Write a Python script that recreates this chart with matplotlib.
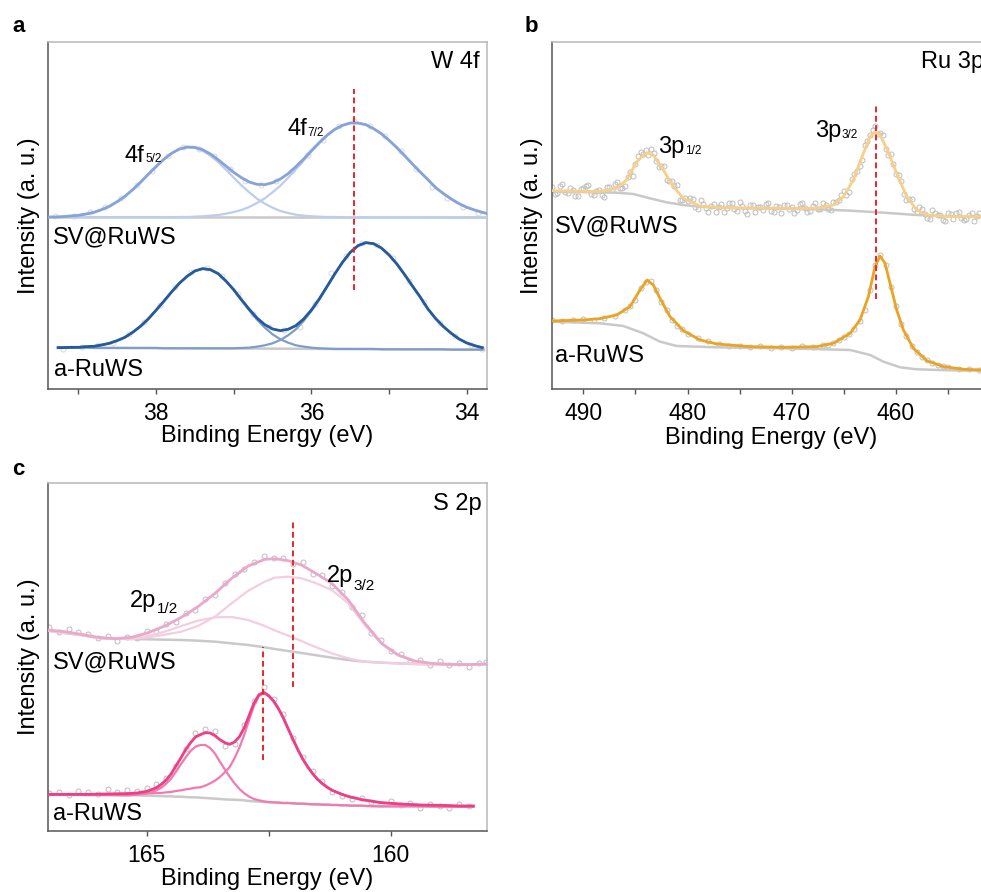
# %% initial imports
import matplotlib as mpl
import matplotlib.figure as figure
from matplotlib.ticker import MultipleLocator

mpl.rc('font', family='Liberation Sans')
mpl.rc('font', size=17)

# %% data (binding energy in eV, intensity in arbitrary units)

# W 4f, SV@RuWS
w_sv_x = [39.4, 39.3, 39.2, 39.1, 39.0, 38.9, 38.8, 38.7, 38.6, 38.5,
          38.4, 38.3, 38.2, 38.1, 38.0, 37.9, 37.8, 37.7, 37.6, 37.5,
          37.4, 37.3, 37.2, 37.1, 37.0, 36.9, 36.8, 36.7, 36.6, 36.5,
          36.4, 36.3, 36.2, 36.1, 36.0, 35.9, 35.8, 35.7, 35.6, 35.5,
          35.4, 35.3, 35.2, 35.1, 35.0, 34.9, 34.8, 34.7, 34.6, 34.5,
          34.4, 34.3, 34.2, 34.1, 34.0, 33.9, 33.8, 33.75]
w_sv_env = [516, 516, 517, 519, 521, 525, 530, 538, 548, 562,
            578, 598, 620, 644, 667, 689, 707, 720, 726, 725,
            718, 705, 688, 669, 650, 634, 621, 614, 613, 619,
            630, 646, 667, 690, 715, 739, 761, 779, 791, 798,
            798, 793, 781, 766, 746, 724, 700, 675, 651, 628,
            604, 586, 570, 556, 545, 537, 530, 527]
w_sv_52 = [516, 516, 517, 519, 521, 525, 530, 538, 548, 562,
           578, 598, 620, 644, 667, 689, 707, 719, 725, 723,
           715, 700, 681, 658, 634, 611, 590, 571, 556, 544,
           534, 528, 523, 520, 518, 517, 516, 516, 515, 515,
           515, 515, 515, 515, 515, 515, 515, 515, 515, 515,
           515, 515, 515, 515, 515, 515, 515, 515]
w_sv_72 = [515, 515, 515, 515, 515, 515, 515, 515, 515, 515,
           515, 515, 515, 515, 515, 515, 515, 516, 516, 517,
           518, 520, 522, 526, 531, 537, 546, 558, 572, 590,
           610, 634, 659, 685, 712, 737, 760, 778, 791, 798,
           798, 793, 781, 766, 746, 724, 700, 675, 651, 628,
           604, 586, 570, 556, 545, 537, 530, 527]
w_sv_bg_x = [39.39, 33.75]
w_sv_bg = [515, 514]
w_sv_pts_x = [39.30, 39.05, 38.85, 38.65, 38.45, 38.25, 38.05, 37.85, 37.65, 37.45,
              37.25, 37.05, 36.85, 36.65, 36.45, 36.25, 36.05, 35.85, 35.65, 35.45,
              35.25, 35.05, 34.85, 34.65, 34.45, 34.25, 34.05, 33.85]
w_sv_pts_y = [518, 519, 530, 547, 573, 611, 655, 698, 727, 720,
              698, 660, 625, 611, 624, 654, 702, 748, 788, 803,
              790, 760, 713, 660, 606, 574, 545, 528]

# W 4f, a-RuWS
w_a_x = [39.26, 39.2, 39.1, 39.0, 38.9, 38.8, 38.7, 38.6, 38.5, 38.4,
         38.3, 38.2, 38.1, 38.0, 37.9, 37.8, 37.7, 37.6, 37.5, 37.4,
         37.3, 37.2, 37.1, 37.0, 36.9, 36.8, 36.7, 36.6, 36.5, 36.4,
         36.3, 36.2, 36.1, 36.0, 35.9, 35.8, 35.7, 35.6, 35.5, 35.4,
         35.3, 35.2, 35.1, 35.0, 34.9, 34.8, 34.7, 34.6, 34.5, 34.4,
         34.3, 34.2, 34.1, 34.0, 33.9, 33.8]
w_a_env = [124, 124, 125, 125, 127, 128, 132, 137, 145, 155,
           170, 188, 210, 236, 263, 291, 317, 338, 354, 361,
           358, 346, 324, 298, 268, 239, 213, 193, 180, 175,
           179, 190, 210, 237, 270, 307, 345, 380, 410, 430,
           439, 436, 423, 402, 375, 343, 309, 276, 240, 211,
           187, 167, 150, 138, 130, 124]
w_a_52 = [124, 124, 125, 125, 127, 128, 132, 137, 145, 155,
          170, 188, 210, 236, 263, 291, 317, 338, 354, 361,
          358, 346, 324, 297, 266, 236, 208, 184, 164, 149,
          139, 131, 127, 124, 122, 121, 120, 120, 120, 120,
          120, 120, 119, 119, 119, 119, 119, 119, 119, 119,
          119, 118, 118, 118, 118, 118]
w_a_72 = [124, 124, 124, 124, 124, 123, 123, 123, 123, 123,
          123, 123, 123, 123, 122, 122, 122, 122, 122, 122,
          122, 122, 122, 122, 123, 124, 127, 131, 137, 147,
          161, 179, 204, 234, 268, 306, 344, 380, 410, 430,
          439, 436, 423, 402, 375, 343, 309, 276, 240, 211,
          187, 167, 150, 138, 130, 124]
w_a_bg_x = [39.26, 33.78]
w_a_bg = [124, 118]
w_a_pts_x = [39.20, 38.95, 38.75, 38.55, 38.35, 38.15, 37.95, 37.75, 37.55, 37.35,
             37.15, 36.95, 36.75, 36.55, 36.35, 36.15, 35.95, 35.75, 35.55, 35.35,
             35.15, 34.95, 34.75, 34.55, 34.35, 34.15, 33.95, 33.80]
w_a_pts_y = [121, 126, 132, 139, 164, 200, 252, 305, 350, 362,
             338, 284, 226, 186, 176, 186, 255, 348, 398, 438,
             432, 392, 325, 262, 198, 158, 133, 121]
w_mark_x = 35.45
w_mark_y = [297, 900]

# Ru 3p, SV@RuWS
ru_sv_x = [493.04, 490.0, 488.4, 486.8, 485.84, 484.88, 483.92, 483.28, 482.32, 481.36,
           480.4, 478.8, 477.2, 474.0, 470.8, 467.6, 466.0, 465.05, 464.09, 463.13,
           462.49, 462.01, 461.53, 460.89, 459.93, 458.97, 458.01, 457.05, 454.81, 451.84]
ru_sv_env = [595, 593, 593, 602, 627, 682, 709, 702, 657, 607,
             572, 549, 545, 543, 542, 542, 552, 577, 627, 707,
             757, 772, 762, 722, 647, 577, 537, 522, 517, 517]
ru_sv_bg_x = [493.04, 486.8, 485.2, 483.6, 482.0, 480.4, 478.8, 477.2, 474.0, 470.8,
              467.6, 464.4, 461.21, 458.01, 454.81, 451.84]
ru_sv_bg = [592, 589, 585, 572, 560, 552, 547, 544, 542, 541,
            539, 535, 529, 522, 518, 516]
ru_sv_pts_x = [493.0, 492.5, 492.0, 491.5, 491.0, 490.5, 490.0, 489.5, 489.0, 488.5,
               488.0, 487.5, 487.0, 486.5, 486.0, 485.5, 485.0, 484.5, 484.0, 483.5,
               483.0, 482.5, 482.0, 481.5, 481.0, 480.5, 480.0, 479.5, 479.0, 478.5,
               478.0, 477.5, 477.0, 476.5, 476.0, 475.5, 475.0, 474.5, 474.0, 473.5,
               473.0, 472.5, 472.0, 471.5, 471.0, 470.5, 470.0, 469.5, 469.0, 468.5,
               468.0, 467.5, 467.0, 466.5, 466.0, 465.5, 465.0, 464.5, 464.0, 463.5,
               463.0, 462.5, 462.0, 461.5, 461.0, 460.5, 460.0, 459.5, 459.0, 458.5,
               458.0, 457.5, 457.0, 456.5, 456.0, 455.5, 455.0, 454.5, 454.0, 453.5,
               453.0, 452.5, 452.0,
               492.75, 492.25, 491.75, 491.25, 490.75, 490.25, 489.75, 489.25, 488.75, 488.25,
               487.75, 487.25, 486.75, 486.25, 485.75, 485.25, 484.75, 484.25, 483.75, 483.25,
               482.75, 482.25, 481.75, 481.25, 480.75, 480.25, 479.75, 479.25, 478.75, 478.25,
               477.75, 477.25, 476.75, 476.25, 475.75, 475.25, 474.75, 474.25, 473.75, 473.25,
               472.75, 472.25, 471.75, 471.25, 470.75, 470.25, 469.75, 469.25, 468.75, 468.25,
               467.75, 467.25, 466.75, 466.25, 465.75, 465.25, 464.75, 464.25, 463.75, 463.25,
               462.75, 462.25, 461.75, 461.25, 460.75, 460.25, 459.75, 459.25, 458.75, 458.25,
               457.75, 457.25, 456.75, 456.25, 455.75, 455.25, 454.75, 454.25, 453.75, 453.25,
               452.75, 452.25]
ru_sv_pts_y = [607, 587, 614, 589, 597, 578, 602, 611, 583, 597,
               577, 605, 615, 602, 608, 650, 674, 711, 716, 720,
               684, 670, 626, 625, 611, 568, 563, 571, 541, 555,
               531, 554, 546, 532, 559, 540, 561, 535, 552, 531,
               546, 556, 533, 548, 527, 553, 546, 536, 558, 532,
               550, 540, 558, 541, 562, 568, 593, 591, 646, 668,
               732, 762, 790, 768, 719, 704, 646, 625, 567, 570,
               532, 540, 514, 537, 522, 507, 527, 511, 530, 508,
               522, 503, 527,
               585, 609, 590, 602, 579, 599, 610, 586, 595, 582,
               607, 597, 622, 603, 635, 640, 699, 704, 702, 709,
               667, 668, 625, 609, 568, 573, 573, 547, 567, 543,
               549, 532, 555, 543, 558, 535, 549, 526, 551, 545,
               536, 557, 531, 546, 551, 539, 528, 554, 543, 534,
               558, 539, 553, 538, 560, 581, 582, 630, 653, 687,
               743, 776, 764, 762, 702, 674, 643, 584, 571, 541,
               546, 524, 510, 529, 522, 503, 524, 529, 513, 509,
               527, 518]

# Ru 3p, a-RuWS
ru_a_x = [493.04, 490.0, 488.4, 486.8, 485.52, 484.56, 483.86, 483.28, 482.64, 481.68,
          480.4, 478.8, 477.2, 474.0, 470.8, 467.6, 466.0, 464.4, 463.45, 462.65,
          462.01, 461.53, 461.05, 460.57, 459.93, 459.29, 458.33, 457.05, 455.45, 453.53,
          451.84]
ru_a_env = [204, 207, 211, 222, 247, 297, 327, 312, 272, 217,
            175, 147, 135, 127, 125, 127, 137, 167, 207, 277,
            367, 399, 377, 317, 237, 177, 122, 85, 67, 59,
            57]
ru_a_bg_x = [493.04, 488.4, 486.16, 484.24, 482.64, 481.04, 477.2, 470.8, 464.4, 462.49,
             461.21, 459.61, 458.01, 454.81, 451.84]
ru_a_bg = [202, 197, 189, 167, 142, 129, 125, 122, 117, 102,
           82, 65, 59, 56, 55]
ru_a_pts_x = [493.0, 492.0, 491.0, 490.0, 489.0, 488.0, 487.0, 486.0, 485.5, 485.0,
              484.5, 484.0, 483.5, 483.0, 482.5, 482.0, 481.5, 481.0, 480.5, 480.0,
              479.0, 478.0, 477.0, 476.0, 475.0, 474.0, 473.0, 472.0, 471.0, 470.0,
              469.0, 468.0, 467.0, 466.5, 466.0, 465.5, 465.0, 464.5, 464.0, 463.5,
              463.0, 462.5, 462.0, 461.5, 461.0, 460.5, 460.0, 459.5, 459.0, 458.5,
              458.0, 457.5, 457.0, 456.5, 456.0, 455.5, 455.0, 454.0, 453.0, 452.0]
ru_a_pts_y = [206, 203, 208, 209, 207, 214, 219, 236, 250, 268,
              302, 322, 324, 296, 262, 236, 208, 190, 180, 166,
              152, 143, 136, 129, 130, 126, 128, 124, 127, 123,
              128, 126, 131, 133, 139, 146, 155, 166, 180, 205,
              238, 296, 372, 402, 371, 306, 248, 195, 158, 130,
              110, 97, 86, 79, 73, 69, 65, 61, 60, 56]
ru_mark_x = 461.9
ru_mark_y = [270, 858]

# S 2p, SV@RuWS
s_sv_x = [167.02, 166.68, 166.34, 166.00, 165.65, 165.31, 164.97, 164.63, 164.29, 163.95,
          163.60, 163.26, 162.92, 162.58, 162.38, 162.10, 161.83, 161.56, 161.21, 160.87,
          160.53, 160.19, 159.85, 159.51, 159.17, 158.82, 158.48, 158.02]
s_sv_env = [603, 598, 590, 581, 577, 581, 595, 615, 641, 673,
            713, 758, 795, 815, 817, 811, 798, 775, 743, 693,
            623, 563, 528, 510, 503, 500, 499, 501]
s_sv_32 = [601, 594, 588, 579, 577, 576, 581, 589, 598, 615,
           643, 683, 721, 748, 760, 763, 758, 745, 723, 683,
           618, 561, 527, 510, 503, 500, 499, 501]
s_sv_12 = [601, 594, 588, 579, 577, 580, 585, 598, 615, 631,
           641, 642, 633, 615, 602, 586, 570, 553, 533, 518,
           508, 505, 503, 501, 500, 500, 499, 501]
s_sv_bg = [601, 594, 588, 579, 577, 576, 575, 574, 573, 571,
           568, 563, 558, 551, 546, 540, 534, 528, 520, 513,
           508, 505, 503, 501, 500, 500, 499, 501]
s_sv_pts_x = [167.0, 166.8, 166.6, 166.4, 166.2, 166.0, 165.8, 165.6, 165.4, 165.2,
              165.0, 164.8, 164.6, 164.4, 164.2, 164.0, 163.8, 163.6, 163.4, 163.2,
              163.0, 162.8, 162.6, 162.4, 162.2, 162.0, 161.8, 161.6, 161.4, 161.2,
              161.0, 160.8, 160.6, 160.4, 160.2, 160.0, 159.8, 159.6, 159.4, 159.2,
              159.0, 158.8, 158.6, 158.4, 158.2, 158.05]
s_sv_pts_y = [612, 598, 606, 596, 590, 578, 585, 571, 582, 579,
              600, 598, 620, 628, 655, 662, 697, 708, 745, 772,
              786, 808, 826, 820, 818, 800, 806, 770, 768, 736,
              718, 672, 648, 595, 572, 540, 532, 511, 513, 498,
              509, 497, 505, 492, 503, 507]
s_sv_mark_x = 162.0
s_sv_mark_y = [432, 933]

# S 2p, a-RuWS
s_a_x = [167.02, 166.6, 166.2, 165.8, 165.4, 165.2, 165.0, 164.9, 164.8, 164.7,
         164.6, 164.5, 164.4, 164.3, 164.2, 164.1, 164.0, 163.9, 163.8, 163.7,
         163.6, 163.5, 163.4, 163.3, 163.2, 163.1, 163.0, 162.9, 162.8, 162.7,
         162.6, 162.5, 162.4, 162.3, 162.2, 162.1, 162.0, 161.9, 161.8, 161.7,
         161.6, 161.5, 161.4, 161.3, 161.2, 161.1, 161.0, 160.9, 160.8, 160.7,
         160.6, 160.5, 160.2, 159.8, 159.4, 159.0, 158.6, 158.31]
s_a_env = [110, 110, 110, 111, 112, 114, 119, 124, 130, 140,
           153, 171, 195, 219, 244, 265, 282, 289, 295, 294,
           286, 274, 265, 260, 267, 283, 310, 347, 384, 409,
           416, 406, 390, 367, 339, 306, 274, 243, 215, 192,
           172, 155, 142, 131, 122, 116, 110, 105, 101, 98,
           94, 92, 85, 81, 78, 77, 75, 75]
s_a_12 = [109, 109, 108, 108, 107, 109, 112, 116, 122, 130,
          142, 157, 178, 200, 221, 240, 253, 258, 258, 249,
          232, 208, 185, 163, 143, 126, 113, 103, 96, 92,
          89, 87, 86, 85, 84, 84, 83, 82, 82, 81,
          80, 80, 79, 79, 78, 78, 77, 77, 76, 76,
          76, 75, 74, 74, 74, 73, 73, 73]
s_a_32 = [110, 110, 110, 111, 112, 112, 113, 113, 114, 114,
          116, 117, 120, 122, 125, 127, 130, 131, 136, 143,
          151, 162, 176, 192, 218, 250, 289, 334, 377, 405,
          414, 405, 389, 367, 339, 306, 274, 243, 215, 192,
          172, 155, 142, 131, 122, 116, 110, 105, 101, 98,
          94, 92, 85, 81, 78, 77, 75, 75]
s_a_bg = [109, 109, 108, 108, 107, 107, 106, 106, 105, 105,
          104, 104, 103, 103, 102, 101, 101, 100, 99, 98,
          97, 96, 95, 94, 94, 93, 92, 90, 89, 88,
          87, 86, 86, 85, 84, 84, 83, 82, 82, 81,
          80, 80, 79, 79, 78, 78, 77, 77, 76, 76,
          76, 75, 74, 74, 74, 73, 73, 73]
s_a_pts_x = [167.0, 166.8, 166.6, 166.4, 166.2, 166.0, 165.8, 165.6, 165.4, 165.2,
             165.0, 164.8, 164.6, 164.4, 164.2, 164.0, 163.8, 163.6, 163.4, 163.2,
             163.0, 162.8, 162.6, 162.4, 162.2, 162.0, 161.8, 161.6, 161.4, 161.2,
             161.0, 160.8, 160.6, 160.4, 160.2, 160.0, 159.8, 159.6, 159.4, 159.2,
             159.0, 158.8, 158.6, 158.4]
s_a_pts_y = [114, 118, 108, 121, 116, 112, 125, 118, 122, 120,
             130, 142, 160, 196, 245, 293, 307, 300, 256, 262,
             318, 390, 432, 395, 350, 278, 222, 180, 150, 118,
             105, 96, 100, 88, 82, 90, 78, 84, 70, 82,
             75, 68, 80, 76]
s_a_mark_x = 162.61
s_a_mark_y = [213, 552]

# %% figure
W, H = 981, 892
GRAY = '#c9c9c9'
RED = '#e8262d'


def fx(px):
    return px / W


def fy(py):
    return 1 - py / H


fig = figure.Figure(figsize=(W / 100, H / 100), dpi=100)
fig.patch.set_facecolor('white')


def make_axes(left, top, right, bottom, xlim, major, minor, ylim, ylab_x, xlab_y):
    ax = fig.add_axes([fx(left), fy(bottom), fx(right) - fx(left), fy(top) - fy(bottom)])
    ax.set_xlim(xlim)
    ax.set_ylim(ylim)
    ax.xaxis.set_major_locator(MultipleLocator(major))
    ax.xaxis.set_minor_locator(MultipleLocator(minor))
    ax.set_yticks([])
    ax.tick_params(axis='x', which='both', direction='out', length=3.5, width=1,
                   color='#555555', pad=5.5, labelsize=16.5)
    for s in ['left', 'bottom']:
        ax.spines[s].set_color('#555555')
        ax.spines[s].set_linewidth(1.1)
    for s in ['top', 'right']:
        ax.spines[s].set_color('#b8b8b8')
        ax.spines[s].set_linewidth(1.1)
    ax.set_xlabel('Binding Energy (eV)', fontsize=17)
    ax.set_ylabel('Intensity (a. u.)', fontsize=17)
    ax.xaxis.set_label_coords(0.5, xlab_y)
    ax.yaxis.set_label_coords(ylab_x, 0.5)
    return ax


def pts(ax, x, y, alpha=1.0):
    ax.plot(x, y, 'o', ms=3.6, mfc='none', mec='#bdbdbd', mew=0.7, alpha=alpha, zorder=1)


def mark(ax, x, y):
    ax.plot([x, x], y, color=RED, ls=(0, (3, 1.8)), lw=1.4, zorder=5)


def text(px, py, s, size=17, ha='left', **kw):
    fig.text(fx(px), fy(py), s, fontsize=size, ha=ha, va='baseline', **kw)


# ---- a: W 4f ----
ax1 = make_axes(48, 41.7, 487, 389.3, [39.39, 33.74], 2, 1, [-1, 1042], -0.018, -0.104)
pts(ax1, w_sv_pts_x, w_sv_pts_y, 0.6)
pts(ax1, w_a_pts_x, w_a_pts_y, 0.6)
ax1.plot(w_sv_bg_x, w_sv_bg, color=GRAY, lw=1.8, zorder=2)
ax1.plot(w_a_bg_x, w_a_bg, color=GRAY, lw=1.8, zorder=2)
ax1.plot(w_sv_x, w_sv_52, color='#bccdee', lw=1.6, zorder=3)
ax1.plot(w_sv_x, w_sv_72, color='#bccdee', lw=1.6, zorder=3)
ax1.plot(w_a_x, w_a_52, color='#7f9dc6', lw=1.6, zorder=3)
ax1.plot(w_a_x, w_a_72, color='#7f9dc6', lw=1.6, zorder=3)
ax1.plot(w_sv_x, w_sv_env, color='#86a3da', lw=2.0, zorder=4)
ax1.plot(w_a_x, w_a_env, color='#255a9c', lw=2.0, zorder=4)
mark(ax1, w_mark_x, w_mark_y)

# ---- b: Ru 3p ----
ax2 = make_axes(551.7, 41.7, 990, 389.3, [493.03, 450.98], 10, 5, [-1, 1042], -0.019, -0.109)
pts(ax2, ru_sv_pts_x, ru_sv_pts_y)
pts(ax2, ru_a_pts_x, ru_a_pts_y)
ax2.plot(ru_sv_bg_x, ru_sv_bg, color=GRAY, lw=1.8, zorder=2)
ax2.plot(ru_a_bg_x, ru_a_bg, color=GRAY, lw=1.8, zorder=2)
ax2.plot(ru_sv_x, ru_sv_env, color='#f8cf88', lw=2.0, zorder=4)
ax2.plot(ru_a_x, ru_a_env, color='#eca322', lw=2.0, zorder=4)
mark(ax2, ru_mark_x, ru_mark_y)

# ---- c: S 2p ----
ax3 = make_axes(48, 483, 487, 831, [167.02, 158.03], 5, 2.5, [0, 1044], -0.018, -0.106)
pts(ax3, s_sv_pts_x, s_sv_pts_y)
pts(ax3, s_a_pts_x, s_a_pts_y)
ax3.plot(s_sv_x, s_sv_bg, color=GRAY, lw=1.8, zorder=2)
ax3.plot(s_a_x, s_a_bg, color=GRAY, lw=1.8, zorder=2)
ax3.plot(s_sv_x, s_sv_12, color='#f5cde1', lw=1.6, zorder=3)
ax3.plot(s_sv_x, s_sv_32, color='#f5cde1', lw=1.6, zorder=3)
ax3.plot(s_a_x, s_a_12, color='#f27aae', lw=1.6, zorder=3)
ax3.plot(s_a_x, s_a_32, color='#f27aae', lw=1.6, zorder=3)
ax3.plot(s_sv_x, s_sv_env, color='#eca8ca', lw=2.0, zorder=4)
ax3.plot(s_a_x, s_a_env, color='#ee3f86', lw=2.0, zorder=4)
mark(ax3, s_sv_mark_x, s_sv_mark_y)
mark(ax3, s_a_mark_x, s_a_mark_y)

# %% labels
text(12, 32, 'a', size=16, weight='bold')
text(525, 32, 'b', size=16, weight='bold')
text(12, 475, 'c', size=16, weight='bold')

text(480, 68, 'W 4f', ha='right')
text(125, 162, '4f')
text(145.5, 162.5, '5/2', size=8.5)
text(287, 135, '4f')
text(307.5, 135.5, '7/2', size=8.5)
text(53, 243, 'SV@RuWS')
text(54, 376, 'a-RuWS')

text(921, 68, 'Ru 3p')
text(658, 153, '3p')
text(685, 153.5, '1/2', size=8.5)
text(815, 137, '3p')
text(842, 137.5, '3/2', size=8.5)
text(555, 232, 'SV@RuWS')
text(555, 362, 'a-RuWS')

text(482, 510, 'S 2p', ha='right')
text(130, 607, '2p')
text(157, 613, '1/2', size=11)
text(327, 582, '2p')
text(353, 590, '3/2', size=11)
text(53, 668, 'SV@RuWS')
text(53, 820, 'a-RuWS')

fig.savefig('out.png', dpi=100)
